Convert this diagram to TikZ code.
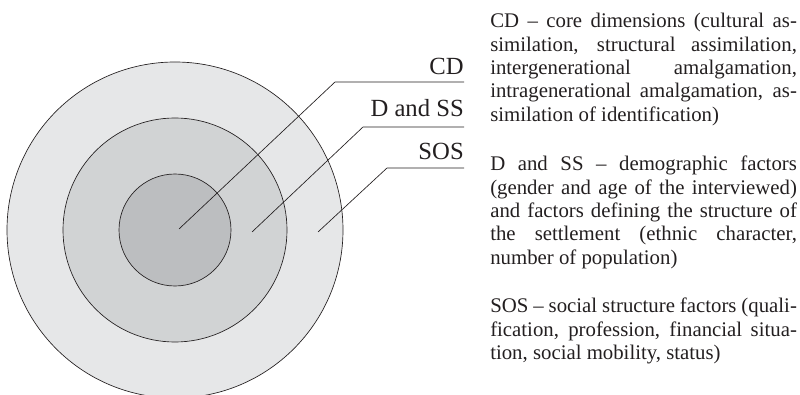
\documentclass[tikz,border=0pt]{standalone}
\usepackage{fontspec}
\setmainfont{Liberation Serif}
\definecolor{outerring}{HTML}{E6E7E8}
\definecolor{midring}{HTML}{D1D3D4}
\definecolor{corering}{HTML}{BCBEC0}
\definecolor{ink}{HTML}{231F20}

\begin{document}
\begin{tikzpicture}[x=0.75pt, y=-0.75pt,
  ring/.style={draw=ink, line width=0.5pt},
  leader/.style={draw=ink, line width=0.5pt},
  lbl/.style={font=\fontsize{18.5}{20}\selectfont, text=ink, inner sep=0pt, anchor=base east},
  legend/.style={font=\fontsize{15.6}{17.5}\selectfont, text=ink, inner sep=0pt, anchor=base west,
    text width=230pt, align=justify}]
  \useasboundingbox (0,0) rectangle (800,395);
  \clip (0,0) rectangle (800,395);
  \coordinate (c) at (175,230);
  \filldraw[ring, fill=outerring] (c) circle (168);
  \filldraw[ring, fill=midring] (c) circle (112);
  \filldraw[ring, fill=corering] (c) circle (56);

  \coordinate (cdtip) at (179,229);
  \coordinate (cdknee) at (335,82);
  \coordinate (cdend) at (464,82);
  \coordinate (dsstip) at (252,232);
  \coordinate (dssknee) at (363,127);
  \coordinate (dssend) at (464,127);
  \coordinate (sostip) at (318,232);
  \coordinate (sosknee) at (387,168);
  \coordinate (sosend) at (464,168);
  \draw[leader] (cdtip) -- (cdknee) -- (cdend);
  \draw[leader] (dsstip) -- (dssknee) -- (dssend);
  \draw[leader] (sostip) -- (sosknee) -- (sosend);
  \node[lbl] (cdlabel) at (464,75) {CD};
  \node[lbl] (dsslabel) at (464,117) {D and SS};
  \node[lbl] (soslabel) at (464,160) {SOS};

  \node[legend] (cdtext) at (490,28) {CD – core dimensions (cultural as-\linebreak
    similation, structural assimilation,\linebreak
    intergenerational amalgamation,\linebreak
    intragenerational amalgamation, as-\linebreak
    similation of identification)};
  \node[legend] (dsstext) at (490,171) {D and SS – demographic factors\linebreak
    (gender and age of the interviewed)\linebreak
    and factors defining the structure of\linebreak
    the settlement (ethnic character,\linebreak
    number of population)};
  \node[legend] (sostext) at (490,313) {SOS – social structure factors (quali-\linebreak
    fication, profession, financial situa-\linebreak
    tion, social mobility, status)};
\end{tikzpicture}
\end{document}
